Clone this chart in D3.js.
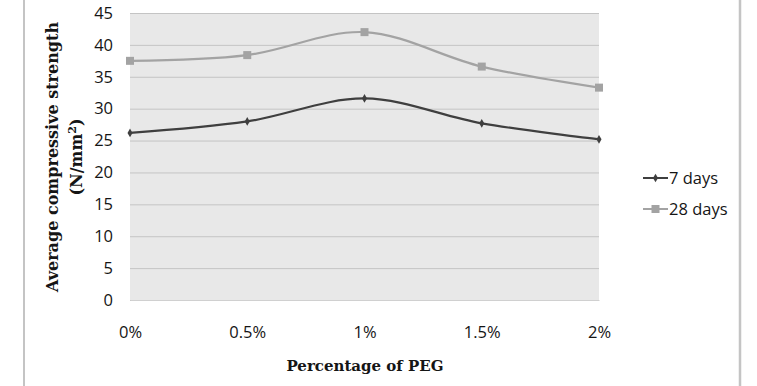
<!DOCTYPE html>
<html><head><meta charset="utf-8">
<script src="https://cdn.jsdelivr.net/npm/d3@7"></script>
<style>body{margin:0;background:#fff}svg{display:block}</style>
</head><body>
<svg id="c" width="757" height="386"></svg>
<script>
const categories = ["0%","0.5%","1%","1.5%","2%"];
const days7 = [26.2, 28.0, 31.6, 27.7, 25.2];
const days28 = [37.5, 38.4, 42.0, 36.6, 33.3];
const yTicks = [0,5,10,15,20,25,30,35,40,45];
const seriesNames = ["7 days","28 days"];

const svg = d3.select("#c");
const L=130,R=599,T=13,B=300;
const x = d3.scalePoint().domain(categories).range([L,R]);
const y = d3.scaleLinear().domain([0,45]).range([B,T]);
const tf = "'Open Sans', sans-serif";

// border lines
svg.append("line").attr("x1",24).attr("x2",24).attr("y1",0).attr("y2",386).attr("stroke","#c4c4c4").attr("stroke-width",2);
svg.append("line").attr("x1",740).attr("x2",740).attr("y1",0).attr("y2",386).attr("stroke","#c4c4c4").attr("stroke-width",2.5);

svg.append("rect").attr("x",L).attr("y",T).attr("width",R-L).attr("height",B-T).attr("fill","#e8e8e8");

const yAxis = d3.axisLeft(y).tickValues(yTicks).tickSize(-(R-L)).tickPadding(17);
const gy = svg.append("g").attr("transform",`translate(${L},0)`).call(yAxis);
gy.select(".domain").remove();
gy.selectAll(".tick line").attr("stroke","#c4c4c4").attr("stroke-width",1);
gy.selectAll(".tick text").attr("font-family",tf).attr("font-size",16.5).attr("fill","#151515");

const xAxis = d3.axisBottom(x).tickSize(0).tickPadding(26);
const gx = svg.append("g").attr("transform",`translate(0,${B})`).call(xAxis);
gx.select(".domain").attr("stroke","#d0d0d0");
gx.selectAll(".tick text").attr("font-family",tf).attr("font-size",16.5).attr("fill","#151515");

const line = d3.line().x((d,i)=>x(categories[i])).y(d=>y(d)).curve(d3.curveCatmullRom.alpha(0.5));
const colors = ["#3f3f3f","#a3a3a3"];
const data = [days7, days28];
data.forEach((s,k)=>{
  svg.append("path").attr("d",line(s)).attr("fill","none").attr("stroke",colors[k]).attr("stroke-width",2.2);
});
// markers
svg.selectAll(".m7").data(days7).enter().append("path")
  .attr("transform",(d,i)=>`translate(${x(categories[i])},${y(d)})`)
  .attr("d",d3.symbol(d3.symbolDiamond,22)).attr("fill",colors[0]);
svg.selectAll(".m28").data(days28).enter().append("rect")
  .attr("x",(d,i)=>x(categories[i])-4).attr("y",d=>y(d)-4).attr("width",8).attr("height",8).attr("fill",colors[1]);

// legend
const leg = [{y:178},{y:209}];
seriesNames.forEach((n,k)=>{
  const ly = leg[k].y;
  svg.append("line").attr("x1",643).attr("x2",668).attr("y1",ly).attr("y2",ly).attr("stroke",colors[k]).attr("stroke-width",2);
  if(k===0) svg.append("path").attr("transform",`translate(655.5,${ly})`).attr("d",d3.symbol(d3.symbolDiamond,22)).attr("fill",colors[0]);
  else svg.append("rect").attr("x",651.5).attr("y",ly-4).attr("width",8).attr("height",8).attr("fill",colors[1]);
  svg.append("text").attr("x",669).attr("y",ly+6).attr("font-family",tf).attr("font-size",16.5).attr("fill","#151515").text(n);
});

// axis titles
svg.append("text").attr("x",365).attr("y",371).attr("text-anchor","middle")
  .attr("font-family","'DejaVu Serif', serif").attr("font-weight","bold").attr("font-size",15).attr("fill","#151515").text("Percentage of PEG");
const yt = svg.append("text").attr("transform","translate(58,157) rotate(-90)").attr("text-anchor","middle")
  .attr("font-family","'DejaVu Serif', serif").attr("font-weight","bold").attr("font-size",16).attr("fill","#151515");
yt.append("tspan").attr("x",0).attr("dy",0).text("Average compressive strength");
yt.append("tspan").attr("x",0).attr("dy",24).text("(N/mm");
yt.append("tspan").attr("dy",-6).attr("font-size",11).text("2");
yt.append("tspan").attr("dy",6).text(")");
</script>
</body></html>
